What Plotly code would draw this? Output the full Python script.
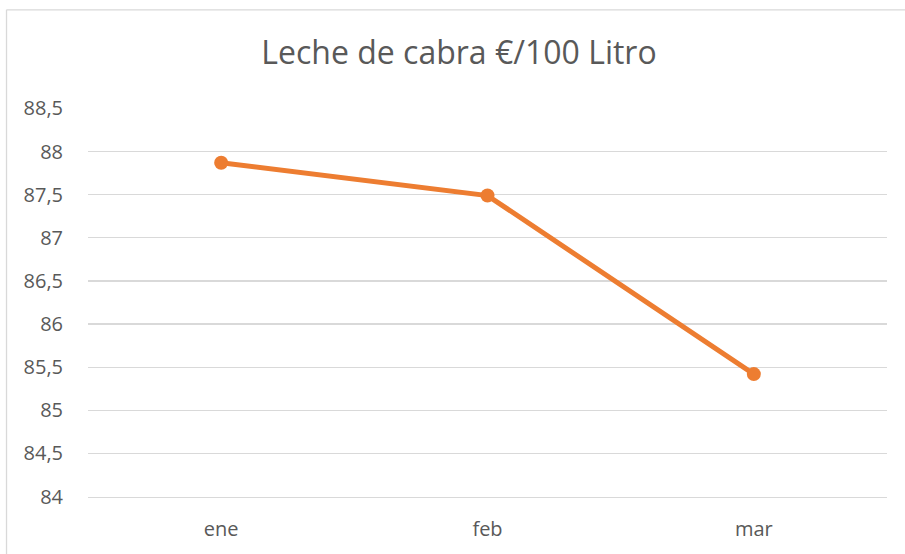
import plotly.graph_objects as go

months = ["ene", "feb", "mar"]
prices = [87.87, 87.49, 85.42]
title_text = "Leche de cabra €/100 Litro"
y_ticks = [84, 84.5, 85, 85.5, 86, 86.5, 87, 87.5, 88, 88.5]

W, H = 905, 554
L, R, T, B = 87.5, 18.3, 107.7, 57.3
pw, ph = W - L - R, H - T - B

fig = go.Figure()
fig.add_trace(go.Scatter(
    x=months, y=prices, mode="lines+markers",
    line=dict(color="#ED7D31", width=5),
    marker=dict(color="#ED7D31", size=14),
    showlegend=False, hoverinfo="skip",
))

def px_x(p):
    return (p - L) / pw

def px_y(p):
    return (H - B - p) / ph

fig.update_layout(
    width=W, height=H,
    margin=dict(l=L, r=R, t=T, b=B, pad=0),
    paper_bgcolor="white", plot_bgcolor="white",
    separators=",.",
    font=dict(family="Open Sans", color="#595959", size=20),
    title=dict(text=title_text, x=459 / W, xanchor="center", xref="container",
               y=1 - 53 / H, yanchor="middle", yref="container",
               font=dict(family="Open Sans", size=32, color="#595959")),
    xaxis=dict(range=[-0.5, 2.5], showgrid=False, showline=True, linecolor="#d9d9d9",
               linewidth=1.3, ticks="outside", ticklen=14, tickcolor="rgba(0,0,0,0)",
               tickfont=dict(size=20, color="#595959"), zeroline=False,
               fixedrange=True),
    yaxis=dict(range=[83.995, 88.505], tickvals=y_ticks, showgrid=True,
               gridcolor="#d9d9d9", gridwidth=1.3, zeroline=False, showline=False,
               ticks="outside", ticklen=20, tickcolor="rgba(0,0,0,0)",
               tickfont=dict(size=20, color="#595959"), fixedrange=True),
    shapes=[
        dict(type="line", xref="paper", yref="paper",
             x0=px_x(6), x1=px_x(6), y0=px_y(9.5), y1=px_y(H + 20),
             line=dict(color="#d9d9d9", width=1.3)),
        dict(type="line", xref="paper", yref="paper",
             x0=px_x(6), x1=px_x(W + 20), y0=px_y(9.5), y1=px_y(9.5),
             line=dict(color="#d9d9d9", width=1.3)),
    ],
)

fig.write_html("out.html",
               config={"displayModeBar": False, "staticPlot": True},
               post_script="document.body.style.margin='0';document.body.style.overflow='hidden';")
